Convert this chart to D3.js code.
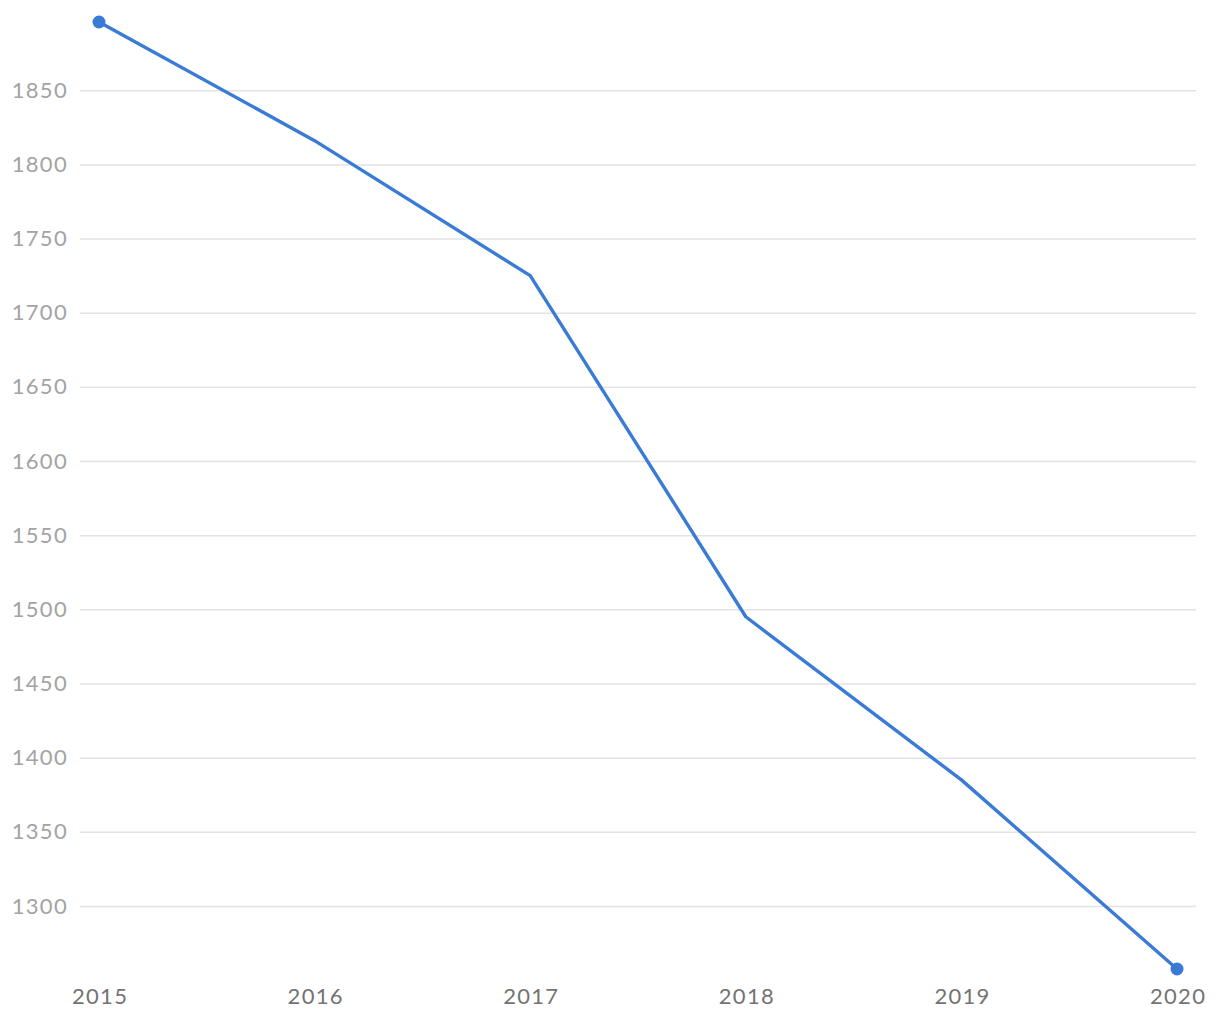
<!DOCTYPE html>
<html><head><meta charset="utf-8">
<script src="https://cdn.jsdelivr.net/npm/d3@7"></script>
<style>body{margin:0;background:#fff;} svg{display:block;font-family:Lato, "Open Sans", sans-serif;}</style>
</head><body>
<svg id="c" width="1220" height="1020"></svg>
<script>
const years = ["2015","2016","2017","2018","2019","2020"];
const values = [1896, 1816, 1725, 1495, 1385, 1257.5];
const yTicks = [1300,1350,1400,1450,1500,1550,1600,1650,1700,1750,1800,1850];

const svg = d3.select("#c");
const x = d3.scalePoint().domain(years).range([99, 1177]);
const y = d3.scaleLinear().domain([d3.min(values), d3.max(values)]).range([969, 22]);

const grid = svg.append("g").attr("transform","translate(80,0)")
  .call(d3.axisLeft(y).tickValues(yTicks).tickSize(-1116).tickPadding(12).tickFormat(d3.format("d")));
grid.select(".domain").remove();
grid.selectAll(".tick line").attr("stroke","#e3e3e3").attr("stroke-width",1.5);
grid.selectAll(".tick text").attr("fill","#a3a3a3").attr("font-size",22).attr("letter-spacing","1.3px").attr("font-family","Lato, sans-serif");

const xa = svg.append("g").attr("transform","translate(0,1004)")
  .call(d3.axisBottom(x).tickSize(0).tickPadding(0));
xa.select(".domain").remove();
xa.selectAll(".tick text").attr("fill","#737373").attr("font-size",22).attr("letter-spacing","1.3px").attr("dx","0.6px").attr("dy",null).attr("y",0).attr("font-family","Lato, sans-serif");

const data = years.map((yr,i)=>({yr, v: values[i]}));
svg.append("path").datum(data)
  .attr("fill","none").attr("stroke","#3a7bd5").attr("stroke-width",3.4).attr("stroke-linejoin","round")
  .attr("d", d3.line().x(d=>x(d.yr)).y(d=>y(d.v)));

svg.selectAll("circle").data([data[0], data[data.length-1]]).join("circle")
  .attr("cx", d=>x(d.yr)).attr("cy", d=>y(d.v)).attr("r",6.5).attr("fill","#3a7bd5");
</script>
</body></html>
